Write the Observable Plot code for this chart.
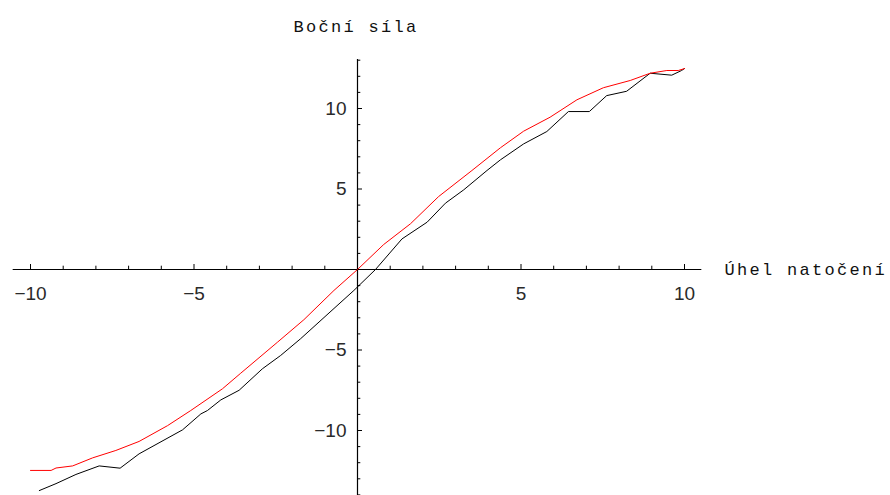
<!DOCTYPE html>
<html>
<head>
<meta charset="utf-8">
<script src="https://cdn.jsdelivr.net/npm/d3@7"></script>
<script src="https://cdn.jsdelivr.net/npm/@observablehq/plot@0.6"></script>
<style>
  html, body { margin: 0; padding: 0; background: #fff; }
  #chart { width: 890px; height: 495px; }
</style>
</head>
<body>
<div id="chart"></div>
<script>
// Red series (upper curve)
const redX = [-10, -9.37, -9.22, -8.71, -8.1, -7.39, -6.68, -5.81, -5.1, -4.13, -3.57, -2.45, -1.64, -0.72, 0, 0.8, 1.62, 2.48, 3.5, 4.37, 5.08, 5.89, 6.71, 7.52, 8.34, 8.95, 9.46, 9.81, 10];
const redY = [-12.48, -12.48, -12.33, -12.2, -11.7, -11.24, -10.68, -9.7, -8.76, -7.41, -6.44, -4.52, -3.12, -1.3, 0, 1.55, 2.84, 4.53, 6.15, 7.56, 8.59, 9.46, 10.54, 11.29, 11.74, 12.19, 12.36, 12.36, 12.48];

// Black series (lower curve)
const blackX = [-9.73, -9.22, -8.61, -7.9, -7.26, -6.68, -5.35, -4.79, -4.59, -4.18, -3.62, -2.91, -2.35, -1.74, -0.11, 0.55, 1.36, 2.13, 2.69, 3.25, 3.96, 4.37, 5.08, 5.79, 6.45, 7.09, 7.62, 8.23, 8.95, 9.61, 9.91, 10];
const blackY = [-13.73, -13.3, -12.73, -12.2, -12.34, -11.45, -9.96, -8.97, -8.76, -8.1, -7.5, -6.17, -5.34, -4.3, -1.3, 0, 1.9, 2.94, 4.12, 4.95, 6.15, 6.81, 7.8, 8.57, 9.81, 9.81, 10.8, 11.07, 12.19, 12.07, 12.36, 12.48];

// Ticks
const xMajorTicks = [-10, -5, 5, 10];
const xMinorTicks = [-9, -8, -7, -6, -4, -3, -2, -1, 1, 2, 3, 4, 6, 7, 8, 9];
const yMajorTicks = [-10, -5, 5, 10];
const yMinorTicks = [-14, -13, -12, -11, -9, -8, -7, -6, -4, -3, -2, -1, 1, 2, 3, 4, 6, 7, 8, 9, 11, 12, 13];

const xLabel = "Úhel natočení";
const yLabel = "Boční síla";

const fmt = v => (v < 0 ? "\u2212" + Math.abs(v) : String(v));

const red = redX.map((x, i) => ({x, y: redY[i]}));
const black = blackX.map((x, i) => ({x, y: blackY[i]}));

// px per unit
const sx = 32.7, sy = 16.1;
const xMajLen = 5 / sy, xMinLen = 3.3 / sy;
const yMajLen = 5 / sx, yMinLen = 3.3 / sx;

const tickFont = "'Liberation Sans', Arial, sans-serif";
const labelFont = "'Liberation Mono', 'DejaVu Sans Mono', monospace";

const chart = Plot.plot({
  width: 890,
  height: 495,
  marginLeft: 0, marginRight: 0, marginTop: 0, marginBottom: 0,
  x: {domain: [-10, 10], range: [357 - 10 * sx, 357 + 10 * sx], axis: null},
  y: {domain: [-10, 10], range: [269 + 10 * sy, 269 - 10 * sy], axis: null},
  style: {background: "#fff", overflow: "visible"},
  marks: [
    // axes
    Plot.ruleY([0], {x1: -10.53, x2: 10.53, stroke: "#000", strokeWidth: 1.2}),
    Plot.ruleX([0], {y1: -14.2, y2: 13.05, stroke: "#000", strokeWidth: 1.2}),
    // x ticks (upwards)
    Plot.ruleX(xMajorTicks, {x: d => d, y1: 0, y2: xMajLen, stroke: "#000", strokeWidth: 1}),
    Plot.ruleX(xMinorTicks, {x: d => d, y1: 0, y2: xMinLen, stroke: "#000", strokeWidth: 1}),
    // y ticks (rightwards)
    Plot.ruleY(yMajorTicks, {y: d => d, x1: 0, x2: yMajLen, stroke: "#000", strokeWidth: 1}),
    Plot.ruleY(yMinorTicks, {y: d => d, x1: 0, x2: yMinLen, stroke: "#000", strokeWidth: 1}),
    // tick labels
    Plot.text(xMajorTicks, {x: d => d, y: 0, text: d => fmt(d), dy: 24, fontSize: 19, fontFamily: tickFont, fill: "#2a2a2a", textAnchor: "middle"}),
    Plot.text(yMajorTicks, {y: d => d, x: 0, text: d => fmt(d), dx: -11, fontSize: 19, fontFamily: tickFont, fill: "#2a2a2a", textAnchor: "end"}),
    // curves
    Plot.line(black, {x: "x", y: "y", stroke: "#000", strokeWidth: 1}),
    Plot.line(red, {x: "x", y: "y", stroke: "#ff0000", strokeWidth: 1}),
    // axis labels
    Plot.text([xLabel], {x: (724 - 357) / sx, y: 0, text: d => d, textAnchor: "start", fontSize: 17, fontFamily: labelFont, fill: "#111"}),
    Plot.text([yLabel], {x: (293 - 357) / sx, y: (269 - 26) / sy, text: d => d, textAnchor: "start", fontSize: 17, fontFamily: labelFont, fill: "#111"})
  ]
});
// widen the axis-label lettering like the original's Courier spacing
d3.select(chart).selectAll("text")
  .filter(function() { const t = this.textContent; return t === xLabel || t === yLabel; })
  .style("letter-spacing", "2.3px");
document.getElementById("chart").appendChild(chart);
</script>
</body>
</html>
